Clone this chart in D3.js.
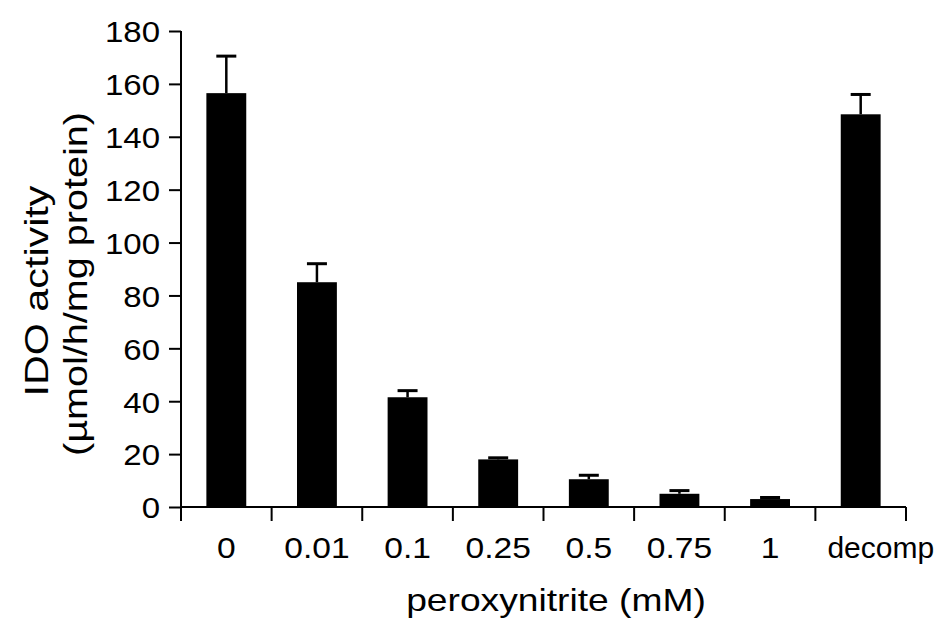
<!DOCTYPE html>
<html>
<head>
<meta charset="utf-8">
<script src="https://cdn.jsdelivr.net/npm/d3@7"></script>
<style>
  html, body { margin: 0; padding: 0; background: #fff; }
  svg { display: block; }
  text { font-family: "Liberation Sans", Arial, Helvetica, sans-serif; fill: #000; }
</style>
</head>
<body>
<svg id="chart" width="941" height="621"></svg>
<script>
const categories = ["0", "0.01", "0.1", "0.25", "0.5", "0.75", "1", "decomp"];
const values = [156.5, 85, 41.5, 18, 10.5, 5, 3, 148.5];
const errors = [14, 7, 2.5, 0.6, 1.5, 1.2, 0.6, 7.5];
const yTicks = [0, 20, 40, 60, 80, 100, 120, 140, 160, 180];
const xTitle = "peroxynitrite (mM)";
const yTitle1 = "IDO activity";
const yTitle2 = "(µmol/h/mg protein)";

const svg = d3.select("#chart");
const mLeft = 181, mRight = 906, mTop = 31, mBottom = 507;

const x = d3.scaleBand().domain(categories).range([mLeft, mRight]).paddingInner(0).paddingOuter(0);
const y = d3.scaleLinear().domain([0, 180]).range([mBottom, mTop]);
const barW = x.bandwidth() * 0.44;

// bars
svg.append("g").selectAll("rect")
  .data(categories)
  .join("rect")
  .attr("x", (d) => x(d) + x.bandwidth() / 2 - barW / 2)
  .attr("y", (d, i) => y(values[i]))
  .attr("width", barW)
  .attr("height", (d, i) => y(0) - y(values[i]))
  .attr("fill", "#000");

// error bars (upper only)
const eg = svg.append("g").attr("stroke", "#000");
categories.forEach((c, i) => {
  const cx = x(c) + x.bandwidth() / 2;
  eg.append("line")
    .attr("x1", cx).attr("x2", cx)
    .attr("y1", y(values[i])).attr("y2", y(values[i] + errors[i]))
    .attr("stroke-width", 2.5);
  eg.append("line")
    .attr("x1", cx - 10).attr("x2", cx + 10)
    .attr("y1", y(values[i] + errors[i])).attr("y2", y(values[i] + errors[i]))
    .attr("stroke-width", 3);
});

// y axis
const yAxis = d3.axisLeft(y).tickValues(yTicks).tickSize(12).tickPadding(0).tickSizeOuter(0);
const gy = svg.append("g").attr("transform", `translate(${mLeft},0)`).call(yAxis);
gy.attr("font-family", null).attr("font-size", null);
gy.select(".domain").remove();
gy.selectAll(".tick line").attr("stroke", "#000").attr("stroke-width", 2);
const ys = 1.1;
gy.selectAll(".tick text")
  .attr("font-size", 30)
  .attr("x", -21 / ys)
  .attr("dy", "0.36em")
  .attr("transform", `scale(${ys},1)`);
svg.append("line")
  .attr("x1", mLeft).attr("x2", mLeft)
  .attr("y1", mTop).attr("y2", mBottom + 14)
  .attr("stroke", "#000").attr("stroke-width", 2);

// x axis
svg.append("line")
  .attr("x1", mLeft).attr("x2", mRight)
  .attr("y1", mBottom).attr("y2", mBottom)
  .attr("stroke", "#000").attr("stroke-width", 2);
const boundaries = categories.map((c) => x(c)).concat([mRight]);
svg.append("g").selectAll("line")
  .data(boundaries.slice(1))
  .join("line")
  .attr("x1", (d) => d).attr("x2", (d) => d)
  .attr("y1", mBottom).attr("y2", mBottom + 14)
  .attr("stroke", "#000").attr("stroke-width", 2);

// x tick labels: numeric ones centred under bars, the text label starts just right of its band start
svg.append("g").selectAll("text")
  .data(categories)
  .join("text")
  .attr("transform", (d) => {
    const isNum = !isNaN(+d);
    const px = isNum ? x(d) + x.bandwidth() / 2 : x(d) + 12;
    return `translate(${px},558) scale(${isNum ? 1.12 : 1.0},1)`;
  })
  .attr("text-anchor", (d) => (isNaN(+d) ? "start" : "middle"))
  .attr("font-size", 30)
  .text((d) => d);

// x title
svg.append("text")
  .attr("transform", `translate(556,611) scale(1.2,1)`)
  .attr("text-anchor", "middle")
  .attr("font-size", 31)
  .text(xTitle);

// y title
svg.append("text")
  .attr("transform", `translate(48,291) rotate(-90) scale(1.25,1)`)
  .attr("text-anchor", "middle")
  .attr("font-size", 33)
  .text(yTitle1);
svg.append("text")
  .attr("transform", `translate(87,284) rotate(-90) scale(1.2,1)`)
  .attr("text-anchor", "middle")
  .attr("font-size", 33)
  .text(yTitle2);
</script>
</body>
</html>
